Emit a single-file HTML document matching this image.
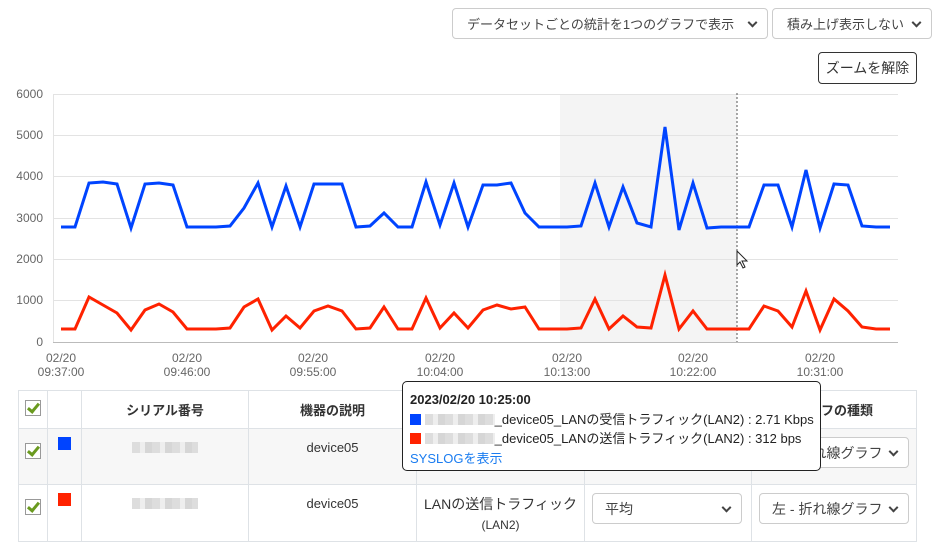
<!DOCTYPE html>
<html><head><meta charset="utf-8"><style>
body{margin:0;width:943px;height:554px;background:#fff;font-family:"Liberation Sans","Noto Sans CJK JP",sans-serif;color:#333;position:relative;overflow:hidden}
.sel{position:absolute;border:1px solid #ccc;border-radius:4px;background:#fff;font-size:14px;color:#444;box-sizing:border-box;padding-left:12px;display:flex;align-items:center;white-space:nowrap}
.sel:after{content:"";position:absolute;right:11px;top:50%;width:5px;height:5px;border-right:2px solid #444;border-bottom:2px solid #444;transform:translateY(-70%) rotate(45deg)}
.top{font-size:13px;padding-left:14px}
.abs{position:absolute}
table{position:absolute;left:18px;top:390px;border-collapse:collapse;font-size:13px}
td{border:1px solid #dee2e6;text-align:center;padding:0;box-sizing:border-box}
.cb{display:inline-block;width:14px;height:14px;border:1px solid #999;position:relative;background:#fff}
.cb:after{content:"";position:absolute;left:4px;top:0px;width:4px;height:9px;border-right:3px solid #6a9a1f;border-bottom:3px solid #6a9a1f;transform:rotate(40deg)}
.blur{display:inline-block;background:repeating-linear-gradient(90deg,#ddd 0 8px,#eee 8px 13px,#d6d6d6 13px 20px);height:11px}
</style></head><body>
<div class="sel top" style="left:452px;top:8px;width:316px;height:31px">データセットごとの統計を1つのグラフで表示</div>
<div class="sel top" style="left:772px;top:8px;width:160px;height:31px">積み上げ表示しない</div>
<div class="abs" style="left:818px;top:52px;width:99px;height:32px;border:1px solid #333;border-radius:4px;box-sizing:border-box;font-size:14px;display:flex;align-items:center;justify-content:center">ズームを解除</div>
<svg class="abs" style="left:0;top:0" width="943" height="390">
<rect x="560" y="94" width="177" height="248" fill="#f4f4f4"/>
<g stroke="#e3e3e3" stroke-width="1">
<line x1="53" y1="94.5" x2="898" y2="94.5"/><line x1="53" y1="135.5" x2="898" y2="135.5"/><line x1="53" y1="176.5" x2="898" y2="176.5"/><line x1="53" y1="218.5" x2="898" y2="218.5"/><line x1="53" y1="259.5" x2="898" y2="259.5"/><line x1="53" y1="300.5" x2="898" y2="300.5"/>
<line x1="53.5" y1="94" x2="53.5" y2="342"/></g>
<line x1="53" y1="342.5" x2="898" y2="342.5" stroke="#bbb"/>
<line x1="737" y1="93" x2="737" y2="342" stroke="#555" stroke-dasharray="2,2"/>
<g font-size="12" fill="#666" text-anchor="end">
<text x="43" y="98">6000</text><text x="43" y="139">5000</text><text x="43" y="180">4000</text><text x="43" y="222">3000</text><text x="43" y="263">2000</text><text x="43" y="304">1000</text><text x="43" y="346">0</text></g>
<g font-size="12" fill="#666" text-anchor="middle">
<text x="61" y="362">02/20</text><text x="61" y="376">09:37:00</text>
<text x="187" y="362">02/20</text><text x="187" y="376">09:46:00</text>
<text x="313" y="362">02/20</text><text x="313" y="376">09:55:00</text>
<text x="440" y="362">02/20</text><text x="440" y="376">10:04:00</text>
<text x="567" y="362">02/20</text><text x="567" y="376">10:13:00</text>
<text x="693" y="362">02/20</text><text x="693" y="376">10:22:00</text>
<text x="820" y="362">02/20</text><text x="820" y="376">10:31:00</text></g>
<polyline fill="none" stroke="#0044ff" stroke-width="3" stroke-linejoin="miter" points="61,227 75,227 89,183 103,182 117,184 131,228 145,184 159,183 173,185 187,227 202,227 216,227 230,226 244,208 258,183 272,227 286,186 300,227 314,184 328,184 342,184 356,227 370,226 384,213 398,227 412,227 426,182 440,225 454,183 468,227 483,185 497,185 511,183 525,213 539,227 553,227 567,227 581,226 595,183 609,227 623,187 637,223 651,227 665,127 679,230 693,183 707,228 721,227 735,227 749,227 764,185 778,185 792,227 806,170 820,228 834,184 848,185 862,226 876,227 890,227"/>
<polyline fill="none" stroke="#ff2200" stroke-width="3" points="61,329 75,329 89,297 103,305 117,313 131,330 145,310 159,304 173,312 187,329 202,329 216,329 230,328 244,307 258,299 272,330 286,316 300,328 314,311 328,306 342,311 356,329 370,328 384,307 398,329 412,329 426,298 440,328 454,313 468,328 483,310 497,305 511,309 525,307 539,329 553,329 567,329 581,328 595,299 609,329 623,316 637,327 651,328 665,275 679,329 693,311 707,329 721,329 735,329 749,329 764,306 778,311 792,327 806,291 820,330 834,299 848,311 862,327 876,329 890,329"/>
<path d="M737 251 L737 265 L740 262 L743 268 L745 267 L742 261 L747 261 Z" fill="#fff" stroke="#222" stroke-width="1"/>
</svg>
<table>
<tr style="height:38px;font-weight:bold"><td style="width:29px"><span class="cb"></span></td><td style="width:34px"></td><td style="width:167px">シリアル番号</td><td style="width:168px">機器の説明</td><td style="width:168px"></td><td style="width:167px"></td><td style="width:165px">グラフの種類</td></tr>
<tr style="height:56px;background:#f7f7f7;vertical-align:top"><td style="padding-top:14px"><span class="cb"></span></td><td style="padding-top:8px"><span style="display:inline-block;width:13px;height:13px;background:#0044ff"></span></td><td style="padding-top:12px"><span class="blur" style="width:66px"></span></td><td style="padding-top:11px">device05</td><td></td><td></td><td style="padding-top:8px"><div style="position:relative;height:30px"><div class="sel" style="left:7px;top:0;width:150px;height:31px">左 - 折れ線グラフ</div></div></td></tr>
<tr style="height:57px;vertical-align:top"><td style="padding-top:14px"><span class="cb"></span></td><td style="padding-top:8px"><span style="display:inline-block;width:13px;height:13px;background:#ff2200"></span></td><td style="padding-top:12px"><span class="blur" style="width:66px"></span></td><td style="padding-top:11px">device05</td><td style="padding-top:9px;font-size:14px;line-height:20px">LANの送信トラフィック<br><span style="font-size:12px">(LAN2)</span></td><td style="padding-top:8px"><div style="position:relative;height:30px"><div class="sel" style="left:7px;top:0;width:150px;height:31px">平均</div></div></td><td style="padding-top:8px"><div style="position:relative;height:30px"><div class="sel" style="left:7px;top:0;width:150px;height:31px">左 - 折れ線グラフ</div></div></td></tr>
</table>
<div class="abs" style="left:402px;top:381px;width:419px;height:90px;border:1px solid #222;border-radius:5px;background:#fff;box-sizing:border-box;font-size:13px;color:#222;padding:8px 0 0 7px;line-height:19.5px;white-space:nowrap">
<div style="font-weight:bold">2023/02/20 10:25:00</div>
<div><span style="display:inline-block;width:11px;height:11px;background:#0044ff;vertical-align:-1px"></span> <span class="blur" style="width:70px;vertical-align:-1px"></span>_device05_LANの受信トラフィック(LAN2) : 2.71 Kbps</div>
<div><span style="display:inline-block;width:11px;height:11px;background:#ff2200;vertical-align:-1px"></span> <span class="blur" style="width:70px;vertical-align:-1px"></span>_device05_LANの送信トラフィック(LAN2) : 312 bps</div>
<div style="color:#1a7cf0">SYSLOGを表示</div>
</div>
</body></html>
